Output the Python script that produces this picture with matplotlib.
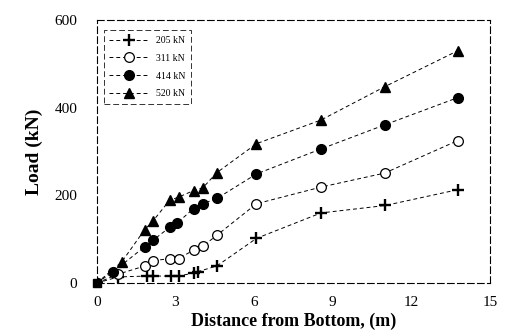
import numpy as np
import matplotlib
matplotlib.use('Agg')
import matplotlib.pyplot as plt

plt.rcParams['font.family'] = ['Liberation Serif', 'DejaVu Serif']

# distance from bottom (m) and load (kN) for each test load
x205 = [0, 0.82, 1.9, 2.15, 2.84, 3.12, 3.69, 3.85, 4.58, 6.09, 8.55, 11.0, 13.76]
y205 = [0, 14, 16, 16, 16, 16, 23, 26, 39, 102, 160, 177, 213]

x311 = [0, 0.8, 1.83, 2.15, 2.8, 3.12, 3.69, 4.04, 4.58, 6.09, 8.55, 10.98, 13.76]
y311 = [0, 20, 39, 51, 56, 56, 75, 84, 109, 181, 219, 251, 325]

x414 = [0, 0.63, 1.83, 2.15, 2.78, 3.07, 3.69, 4.04, 4.58, 6.09, 8.55, 10.98, 13.76]
y414 = [0, 26, 83, 98, 127, 137, 170, 181, 193, 249, 306, 361, 423]

x520 = [0, 0.95, 1.83, 2.15, 2.78, 3.12, 3.69, 4.04, 4.58, 6.09, 8.55, 10.98, 13.76]
y520 = [0, 48, 122, 142, 189, 196, 211, 217, 252, 318, 372, 448, 530]

labels = ['205 kN', '311 kN', '414 kN', '520 kN']
xticks = [0, 3, 6, 9, 12, 15]
yticks = [0, 200, 400, 600]

fig = plt.figure(figsize=(5.09, 3.35), dpi=100)
ax = fig.add_axes([0.19, 0.155, 0.773, 0.785])

ls = (0, (4, 3))
ax.plot(x205, y205, linestyle=ls, color='black', lw=0.7, marker='+', ms=8, mew=1.7, label=labels[0])
ax.plot(x311, y311, linestyle=ls, color='black', lw=0.7, marker='o', ms=7, mfc='white', mew=0.9, label=labels[1])
ax.plot(x414, y414, linestyle=ls, color='black', lw=0.7, marker='o', ms=7, label=labels[2])
ax.plot(x520, y520, linestyle=ls, color='black', lw=0.7, marker='^', ms=7, label=labels[3])
ax.plot([0], [0], marker='s', color='black', ms=6, clip_on=False)

ax.set_xlim(0, 15)
ax.set_ylim(0, 600)
ax.set_xticks(xticks)
ax.set_yticks(yticks)
ax.tick_params(axis='x', length=0, labelsize=11, pad=9)
ax.tick_params(axis='y', length=0, labelsize=11, pad=14)
ax.set_xlabel('Distance from Bottom, (m)', fontsize=13, fontweight='bold', labelpad=3)
ax.set_ylabel('Load (kN)', fontsize=14, fontweight='bold', labelpad=8)

for s in ax.spines.values():
    s.set_linestyle((0, (6, 3)))
    s.set_linewidth(0.8)

leg = ax.legend(loc='upper left', fontsize=7, frameon=True, fancybox=False,
                edgecolor='black', handlelength=4, borderpad=0.6, labelspacing=0.9,
                bbox_to_anchor=(0.005, 0.98))
leg.get_frame().set_linewidth(0.7)
leg.get_frame().set_linestyle((0, (6, 3)))

fig.savefig('out.png', dpi=100)
